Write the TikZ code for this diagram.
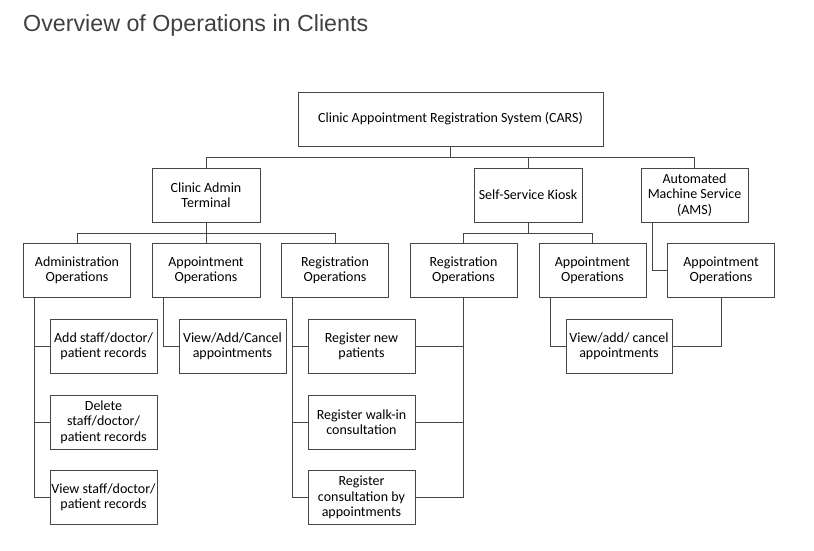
\documentclass[tikz,border=0pt]{standalone}
\usepackage{fontspec}
\setmainfont{Carlito}
\newfontfamily\titlefont{Liberation Sans}
\definecolor{lncol}{RGB}{70,70,70}
\definecolor{titcol}{RGB}{64,64,64}
\tikzset{
  bx/.style={draw=lncol, line width=1pt, minimum width=107pt, minimum height=54pt,
    inner sep=0pt, align=center, font=\fontsize{14}{15.3}\selectfont, text=black},
  ln/.style={draw=lncol, line width=1pt}
}
\begin{document}
\begin{tikzpicture}[x=1pt,y=-1pt]
\useasboundingbox (0,0) rectangle (814,550);
\node[anchor=base west, inner sep=0pt, text=titcol, font=\titlefont\fontsize{23.25}{28}\selectfont] (title) at (23,31) {Overview of Operations in Clients};
% level 1
\node[bx, minimum width=305pt] (cars) at (450.5,119) {Clinic Appointment Registration System (CARS)};
% level 2
\node[bx, minimum width=108pt] (cat) at (206,195) {Clinic Admin\\Terminal};
\node[bx, minimum width=108pt] (sk) at (528,195) {Self-Service Kiosk};
\node[bx] (ams) at (694.5,195) {Automated\\Machine Service\\(AMS)};
% level 3
\node[bx] (adm) at (77,270) {Administration\\Operations};
\node[bx, minimum width=108pt] (apo) at (206,270) {Appointment\\Operations};
\node[bx] (rgo) at (335,270) {Registration\\Operations};
\node[bx] (rgk) at (463.5,270) {Registration\\Operations};
\node[bx] (apk) at (592.5,270) {Appointment\\Operations};
\node[bx] (apa) at (721,270) {Appointment\\Operations};
% level 4
\node[bx] (add) at (103.5,346) {Add staff/doctor/\\patient records};
\node[bx] (del) at (103.5,422) {Delete\\staff/doctor/\\patient records};
\node[bx] (vws) at (103.5,497.5) {View staff/doctor/\\patient records};
\node[bx] (vac) at (232.5,346) {View/Add/Cancel\\appointments};
\node[bx] (rnp) at (361.5,346) {Register new\\patients};
\node[bx] (rwi) at (361.5,422) {Register walk-in\\consultation};
\node[bx] (rca) at (361.5,497.5) {Register\\consultation by\\appointments};
\node[bx, minimum width=106pt] (vak) at (619,346) {View/add/ cancel\\appointments};
% connectors level 1-2
\draw[ln] (cars.south) -- ++(0,11) coordinate (b1);
\draw[ln] (cat.north) -- (cat.north |- b1) -- (ams.north |- b1) -- (ams.north);
\draw[ln] (sk.north) -- (sk.north |- b1);
% clinic admin bus
\draw[ln] (cat.south) -- (apo.north);
\draw[ln] (cat.south) -- ++(0,11) coordinate (b2);
\draw[ln] (adm.north) -- (adm.north |- b2) -- (rgo.north |- b2) -- (rgo.north);
% kiosk bus
\draw[ln] (sk.south) -- ++(0,11) coordinate (b3);
\draw[ln] (rgk.north) -- (rgk.north |- b3) -- (apk.north |- b3) -- (apk.north);
% AMS
\draw[ln] ([xshift=-42pt]ams.south) |- (apa.west);
% admin ops
\draw[ln] ([xshift=-43pt]adm.south) |- (vws.west);
\draw[ln] ([xshift=-43pt]adm.south) |- (add.west);
\draw[ln] ([xshift=-43pt]adm.south) |- (del.west);
% appointment ops
\draw[ln] ([xshift=-43pt]apo.south) |- (vac.west);
% registration ops
\draw[ln] ([xshift=-43pt]rgo.south) |- (rca.west);
\draw[ln] ([xshift=-43pt]rgo.south) |- (rnp.west);
\draw[ln] ([xshift=-43pt]rgo.south) |- (rwi.west);
% kiosk registration ops
\draw[ln] (rgk.south) |- (rca.east);
\draw[ln] (rgk.south) |- (rnp.east);
\draw[ln] (rgk.south) |- (rwi.east);
% kiosk appointment ops
\draw[ln] ([xshift=-42pt]apk.south) |- (vak.west);
\draw[ln] (apa.south) |- (vak.east);
\end{tikzpicture}
\end{document}
